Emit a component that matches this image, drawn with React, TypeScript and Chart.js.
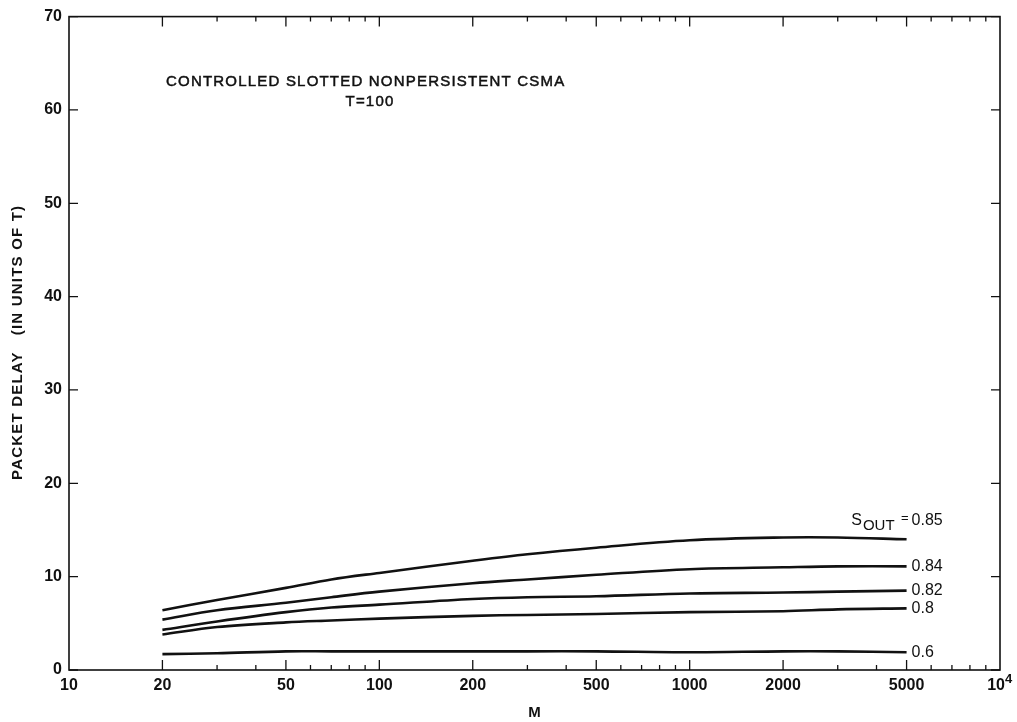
import { useEffect, useRef } from 'react';
import { Chart, registerables } from 'chart.js';

Chart.register(...registerables);

// Number of stations M (log axis)
const M_VALUES = [20, 30, 50, 70, 100, 200, 300, 500, 1000, 2000, 3000, 5000];

// Packet delay (in units of T) for each output throughput S_OUT
const DELAY_S085 = [6.4, 7.5, 8.8, 9.7, 10.4, 11.7, 12.4, 13.1, 13.9, 14.2, 14.2, 14.0];
const DELAY_S084 = [5.4, 6.4, 7.2, 7.8, 8.4, 9.3, 9.7, 10.2, 10.8, 11.0, 11.1, 11.1];
const DELAY_S082 = [4.3, 5.2, 6.2, 6.7, 7.0, 7.6, 7.8, 7.9, 8.2, 8.3, 8.4, 8.5];
const DELAY_S080 = [3.8, 4.6, 5.1, 5.3, 5.5, 5.8, 5.9, 6.0, 6.2, 6.3, 6.5, 6.6];
const DELAY_S060 = [1.7, 1.8, 2.0, 2.0, 2.0, 2.0, 2.0, 2.0, 1.9, 2.0, 2.0, 1.9];

const SERIES_LABELS = ['0.85', '0.84', '0.82', '0.8', '0.6'];
const SERIES_VALUES = [DELAY_S085, DELAY_S084, DELAY_S082, DELAY_S080, DELAY_S060];

const X_LABELED_TICKS = [10, 20, 50, 100, 200, 500, 1000, 2000, 5000, 10000];
const X_LONG_TICKS = [20, 50, 100, 200, 500, 1000, 2000, 5000];
const Y_TICKS = [0, 10, 20, 30, 40, 50, 60, 70];

const TITLE_LINE_1 = 'CONTROLLED SLOTTED NONPERSISTENT CSMA';
const TITLE_LINE_2 = 'T=100';
const Y_TITLE = 'PACKET DELAY   (IN UNITS OF T)';
const X_TITLE = 'M';

const FONT = '"Liberation Sans", Arial, Helvetica, sans-serif';
const INK = '#111';

const framePlugin = {
  id: 'frameAndText',
  afterDraw(chart: any) {
    const { ctx, chartArea } = chart;
    const { left, right, top, bottom } = chartArea;
    const xs = chart.scales.x;
    const ys = chart.scales.y;
    ctx.save();

    // plot frame
    ctx.strokeStyle = INK;
    ctx.lineWidth = 1.6;
    ctx.strokeRect(left, top, right - left, bottom - top);

    // inward y ticks on both sides
    ctx.lineWidth = 1.3;
    ctx.beginPath();
    for (const v of Y_TICKS) {
      const y = ys.getPixelForValue(v);
      ctx.moveTo(left, y);
      ctx.lineTo(left + 9, y);
      ctx.moveTo(right, y);
      ctx.lineTo(right - 9, y);
    }
    // inward x ticks on bottom and top
    for (const d of [10, 100, 1000]) {
      for (let k = 1; k <= 9; k++) {
        const v = k * d;
        if (v <= 10 || v >= 10000) continue;
        const x = xs.getPixelForValue(v);
        const len = X_LONG_TICKS.includes(v) ? 10 : 5;
        ctx.moveTo(x, bottom);
        ctx.lineTo(x, bottom - len);
        ctx.moveTo(x, top);
        ctx.lineTo(x, top + len);
      }
    }
    ctx.stroke();

    // 10^4 label
    const x4 = xs.getPixelForValue(10000);
    ctx.fillStyle = INK;
    ctx.font = `bold 16px ${FONT}`;
    ctx.textBaseline = 'middle';
    ctx.textAlign = 'right';
    ctx.fillText('10', x4 + 5, bottom + 16);
    ctx.textAlign = 'left';
    ctx.font = `bold 13px ${FONT}`;
    ctx.fillText('4', x4 + 5, bottom + 9);

    // curve labels at the end of each line
    chart.data.datasets.forEach((ds: any, i: number) => {
      const meta = chart.getDatasetMeta(i);
      const last = meta.data[meta.data.length - 1];
      const lx = last.x + 5;
      ctx.textBaseline = 'middle';
      if (i === 0) {
        const ly = last.y - 19;
        ctx.textAlign = 'left';
        ctx.font = `16px ${FONT}`;
        ctx.fillText(SERIES_LABELS[i], lx, ly);
        ctx.font = `13px ${FONT}`;
        ctx.textAlign = 'right';
        ctx.fillText('=', lx - 3, ly - 2);
        ctx.font = `15px ${FONT}`;
        const outW = ctx.measureText('OUT').width;
        ctx.fillText('OUT', lx - 17, ly + 6);
        ctx.font = `16px ${FONT}`;
        ctx.fillText('S', lx - 18 - outW, ly);
      } else {
        ctx.textAlign = 'left';
        ctx.font = `16px ${FONT}`;
        ctx.fillText(SERIES_LABELS[i], lx, last.y);
      }
    });

    // chart title inside plot area
    ctx.textBaseline = 'middle';
    ctx.textAlign = 'left';
    ctx.font = `15px ${FONT}`;
    ctx.lineWidth = 0.5;
    (ctx as any).letterSpacing = '1.2px';
    ctx.fillText(TITLE_LINE_1, left + 97, top + 65);
    ctx.strokeText(TITLE_LINE_1, left + 97, top + 65);
    ctx.textAlign = 'center';
    ctx.fillText(TITLE_LINE_2, left + 301, top + 85);
    ctx.strokeText(TITLE_LINE_2, left + 301, top + 85);

    // axis titles
    ctx.font = `bold 15px ${FONT}`;
    (ctx as any).letterSpacing = '0px';
    ctx.textAlign = 'center';
    ctx.fillText(X_TITLE, (left + right) / 2, bottom + 43);
    (ctx as any).letterSpacing = '1.2px';
    ctx.translate(18, (top + bottom) / 2 - 1);
    ctx.rotate(-Math.PI / 2);
    ctx.fillText(Y_TITLE, 0, 0);
    (ctx as any).letterSpacing = '0px';

    ctx.restore();
  },
};

export default function App() {
  const canvasRef = useRef<HTMLCanvasElement | null>(null);

  useEffect(() => {
    document.body.style.margin = '0';
    const canvas = canvasRef.current;
    if (!canvas) return;
    const chart = new Chart(canvas, {
      type: 'line',
      data: {
        datasets: SERIES_VALUES.map((vals, i) => ({
          label: SERIES_LABELS[i],
          data: M_VALUES.map((m, j) => ({ x: m, y: vals[j] })),
          borderColor: INK,
          borderWidth: 2.6,
          pointRadius: 0,
          tension: 0.35,
          fill: false,
        })),
      },
      options: {
        animation: false,
        responsive: false,
        maintainAspectRatio: false,
        layout: { padding: { left: 0, top: 13, right: 17, bottom: 0 } },
        plugins: {
          legend: { display: false },
          tooltip: { enabled: false },
          title: { display: false },
        },
        scales: {
          x: {
            type: 'logarithmic',
            min: 10,
            max: 10000,
            grid: { display: false, drawTicks: false },
            border: { display: false },
            afterBuildTicks: (scale: any) => {
              scale.ticks = X_LABELED_TICKS.map((v) => ({ value: v }));
            },
            afterFit: (scale: any) => {
              scale.height = 52;
            },
            ticks: {
              autoSkip: false,
              maxRotation: 0,
              padding: 6,
              color: INK,
              font: { family: FONT, size: 16, weight: 'bold' },
              callback: (value: any) => (Number(value) === 10000 ? '' : String(value)),
            },
          },
          y: {
            type: 'linear',
            min: 0,
            max: 70,
            grid: { display: false, drawTicks: false },
            border: { display: false },
            afterBuildTicks: (scale: any) => {
              scale.ticks = Y_TICKS.map((v) => ({ value: v }));
            },
            afterFit: (scale: any) => {
              scale.width = 69;
            },
            ticks: {
              padding: 7,
              color: INK,
              font: { family: FONT, size: 16, weight: 'bold' },
            },
          },
        },
      } as any,
      plugins: [framePlugin],
    });
    return () => chart.destroy();
  }, []);

  return (
    <div style={{ width: 1017, height: 722, background: '#fff' }}>
      <canvas ref={canvasRef} width={1017} height={722} style={{ display: 'block' }} />
    </div>
  );
}
